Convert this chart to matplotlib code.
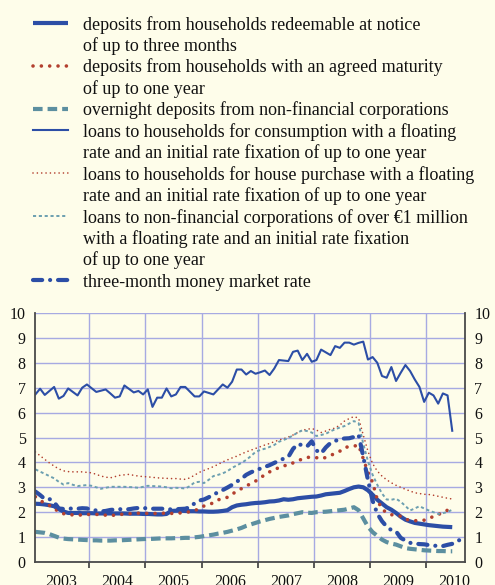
import matplotlib
matplotlib.use('Agg')
import matplotlib.pyplot as plt
from matplotlib.lines import Line2D
from matplotlib.ticker import FixedLocator, NullFormatter, FixedFormatter

# ---------------- data (monthly, Jan 2003 onwards) ----------------
first_year = 2003

dep_notice = [2.34, 2.33, 2.31, 2.28, 2.24, 2.12, 2.03, 1.97, 1.97, 1.97, 1.96, 1.96,
              1.96, 1.95, 1.95, 1.95, 1.95, 1.95, 1.95, 1.95, 1.94, 1.94, 1.94, 1.93,
              1.93, 1.92, 1.91, 1.91, 1.93, 2.05, 2.06, 2.06, 2.05, 2.04, 2.04, 2.03,
              2.03, 2.02, 2.02, 2.03, 2.05, 2.08, 2.20, 2.27, 2.30, 2.32, 2.35, 2.37,
              2.38, 2.40, 2.43, 2.44, 2.47, 2.52, 2.50, 2.52, 2.56, 2.58, 2.60, 2.62,
              2.63, 2.67, 2.72, 2.74, 2.76, 2.78, 2.85, 2.93, 3.00, 3.03, 3.00, 2.88,
              2.70, 2.50, 2.35, 2.20, 2.10, 1.97, 1.82, 1.70, 1.63, 1.57, 1.54, 1.51,
              1.48, 1.46, 1.44, 1.42, 1.41, 1.40]

dep_maturity = [2.62, 2.48, 2.35, 2.27, 2.17, 2.00, 1.94, 1.91, 1.89, 1.88, 1.89, 1.91,
                1.91, 1.91, 1.91, 1.88, 1.85, 1.89, 1.91, 1.92, 1.94, 1.95, 1.96, 1.96,
                1.95, 1.95, 1.95, 1.96, 1.96, 1.95, 1.96, 1.97, 1.99, 2.02, 2.06, 2.15,
                2.25, 2.30, 2.38, 2.50, 2.53, 2.60, 2.74, 2.82, 2.95, 3.05, 3.15, 3.25,
                3.36, 3.52, 3.62, 3.69, 3.80, 3.87, 3.88, 3.98, 4.07, 4.13, 4.20, 4.21,
                4.19, 4.14, 4.20, 4.28, 4.36, 4.45, 4.60, 4.63, 4.65, 4.70, 4.15, 3.60,
                3.20, 2.50, 2.12, 1.98, 1.90, 1.87, 1.84, 1.72, 1.67, 1.66, 1.66, 1.68,
                1.75, 1.83, 1.90, 2.00, 2.08, 2.12]

overnight_nfc = [1.21, 1.19, 1.17, 1.12, 1.05, 0.98, 0.94, 0.92, 0.91, 0.90, 0.89, 0.88,
                 0.87, 0.87, 0.86, 0.86, 0.86, 0.87, 0.87, 0.88, 0.89, 0.90, 0.91, 0.92,
                 0.93, 0.93, 0.94, 0.95, 0.95, 0.95, 0.96, 0.96, 0.97, 0.97, 0.99, 1.01,
                 1.04, 1.07, 1.10, 1.14, 1.17, 1.21, 1.26, 1.31, 1.37, 1.45, 1.51, 1.57,
                 1.63, 1.68, 1.73, 1.77, 1.81, 1.84, 1.87, 1.92, 1.96, 2.00, 1.98, 1.97,
                 2.00, 2.01, 2.02, 2.04, 2.06, 2.08, 2.10, 2.15, 2.20, 2.08, 1.75, 1.42,
                 1.20, 1.05, 0.90, 0.80, 0.74, 0.70, 0.63, 0.56, 0.53, 0.51, 0.49, 0.47,
                 0.46, 0.45, 0.44, 0.44, 0.43, 0.43]

loans_consumption = [6.73, 6.96, 6.71, 6.87, 7.03, 6.56, 6.67, 6.97, 6.83, 6.69, 7.00, 7.13,
                     6.98, 6.83, 6.88, 6.93, 6.77, 6.60, 6.65, 7.09, 6.95, 6.81, 6.87, 6.73,
                     6.93, 6.23, 6.60, 6.60, 6.97, 6.65, 6.73, 7.03, 7.03, 6.84, 6.65, 6.65,
                     6.85, 6.79, 6.73, 6.93, 7.13, 7.00, 7.24, 7.73, 7.73, 7.53, 7.67, 7.56,
                     7.62, 7.69, 7.51, 7.77, 8.11, 8.09, 8.07, 8.44, 8.49, 8.11, 8.36, 8.04,
                     8.11, 8.53, 8.42, 8.31, 8.67, 8.60, 8.81, 8.81, 8.73, 8.80, 8.85, 8.13,
                     8.23, 8.00, 7.47, 7.40, 7.83, 7.27, 7.60, 7.91, 7.67, 7.33, 7.03, 6.43,
                     6.80, 6.69, 6.36, 6.77, 6.69, 5.27]

loans_house = [4.42, 4.27, 4.12, 3.98, 3.85, 3.74, 3.66, 3.63, 3.62, 3.62, 3.62, 3.60,
               3.58, 3.52, 3.45, 3.41, 3.38, 3.43, 3.48, 3.50, 3.52, 3.48, 3.45, 3.43,
               3.42, 3.40, 3.38, 3.37, 3.36, 3.35, 3.35, 3.33, 3.32, 3.38, 3.49, 3.60,
               3.68, 3.75, 3.83, 3.92, 4.02, 4.10, 4.18, 4.25, 4.34, 4.42, 4.49, 4.56,
               4.63, 4.70, 4.76, 4.83, 4.90, 4.95, 5.02, 5.10, 5.20, 5.29, 5.33, 5.36,
               5.30, 5.20, 5.26, 5.33, 5.38, 5.50, 5.66, 5.76, 5.84, 5.78, 5.10, 4.45,
               3.95, 3.65, 3.45, 3.30, 3.18, 3.08, 3.00, 2.92, 2.85, 2.78, 2.75, 2.72,
               2.71, 2.68, 2.64, 2.60, 2.56, 2.53]

loans_nfc = [3.72, 3.63, 3.54, 3.45, 3.36, 3.22, 3.11, 3.17, 3.10, 3.05, 3.07, 3.09,
             3.06, 3.00, 2.94, 2.98, 3.02, 3.02, 3.02, 3.02, 3.01, 3.00, 2.98, 3.02,
             3.06, 3.05, 3.04, 3.03, 3.00, 2.96, 2.98, 2.97, 2.95, 3.05, 3.20, 3.22,
             3.17, 3.30, 3.45, 3.50, 3.56, 3.65, 3.78, 3.88, 3.98, 4.10, 4.25, 4.42,
             4.50, 4.55, 4.62, 4.70, 4.83, 4.90, 4.98, 5.08, 5.20, 5.29, 5.26, 5.20,
             5.06, 5.10, 5.15, 5.25, 5.33, 5.40, 5.46, 5.56, 5.66, 5.58, 4.75, 4.05,
             3.50, 3.10, 2.75, 2.51, 2.50, 2.54, 2.42, 2.25, 2.07, 2.15, 2.24, 2.15,
             2.07, 2.00, 1.93, 1.96, 2.01, 2.10]

money_market_3m = [2.83, 2.69, 2.53, 2.53, 2.40, 2.15, 2.13, 2.14, 2.15, 2.14, 2.16, 2.15,
                   2.09, 2.07, 2.03, 2.05, 2.09, 2.11, 2.12, 2.11, 2.12, 2.15, 2.17, 2.17,
                   2.15, 2.14, 2.14, 2.14, 2.13, 2.11, 2.12, 2.13, 2.14, 2.20, 2.36, 2.47,
                   2.51, 2.60, 2.72, 2.79, 2.89, 2.99, 3.10, 3.23, 3.34, 3.50, 3.60, 3.68,
                   3.75, 3.82, 3.89, 3.98, 4.07, 4.15, 4.22, 4.54, 4.74, 4.69, 4.64, 4.85,
                   4.48, 4.36, 4.60, 4.78, 4.86, 4.94, 4.96, 4.97, 5.02, 5.11, 4.24, 3.29,
                   2.46, 1.94, 1.64, 1.42, 1.28, 1.23, 0.97, 0.86, 0.77, 0.74, 0.72, 0.71,
                   0.68, 0.66, 0.64, 0.64, 0.69, 0.73, 0.85, 0.90]

year_labels = ['2003', '2004', '2005', '2006', '2007', '2008', '2009', '2010']
y_ticks = [0, 1, 2, 3, 4, 5, 6, 7, 8, 9, 10]

legend_labels = [
    "deposits from households redeemable at notice\nof up to three months",
    "deposits from households with an agreed maturity\nof up to one year",
    "overnight deposits from non-financial corporations",
    "loans to households for consumption with a floating\nrate and an initial rate fixation of up to one year",
    "loans to households for house purchase with a floating\nrate and an initial rate fixation of up to one year",
    "loans to non-financial corporations of over \u20ac1 million\nwith a floating rate and an initial rate fixation\nof up to one year",
    "three-month money market rate",
]

# ---------------- styles ----------------
BG = '#FEFDEA'
BLUE = '#2C4EA6'
RED = '#B3402F'
TEAL = '#5C8FA0'
TEAL2 = '#6C9FB0'
GRID = '#A7AAE2'
SPINE = '#4A4A4A'
FONT = 'Liberation Serif'

styles = [
    dict(color=BLUE, lw=3.0, linestyle='-', solid_capstyle='butt'),
    dict(color=RED, lw=2.6, linestyle=(0, (0.01, 2.3)), dash_capstyle='round'),
    dict(color=TEAL, lw=3.0, linestyle=(0, (2.3, 1.2)), dash_capstyle='butt'),
    dict(color=BLUE, lw=1.5, linestyle='-'),
    dict(color=RED, lw=1.2, linestyle=(0, (0.01, 2.6)), dash_capstyle='round'),
    dict(color=TEAL2, lw=1.4, linestyle=(0, (1.6, 1.4)), dash_capstyle='butt'),
    dict(color=BLUE, lw=3.0, linestyle=(0, (2.2, 1.9, 0.01, 1.9)), dash_capstyle='round'),
]

series = [dep_notice, dep_maturity, overnight_nfc, loans_consumption,
          loans_house, loans_nfc, money_market_3m]


def month_times(n):
    return [first_year + (i + 0.5) / 12.0 for i in range(n)]


W, H = 495, 585
fig = plt.figure(figsize=(W / 100, H / 100), dpi=100, facecolor=BG)

x_left, x_right = 2003.04, 2010.68
ax = fig.add_axes([35.3 / W, 23 / H, 429.4 / W, 249 / H])
ax.set_facecolor(BG)

for s, st in zip(series, styles):
    ax.plot(month_times(len(s)), s, **st)

ax.set_xlim(x_left, x_right)
ax.set_ylim(0, 10)

# grid
ax.set_yticks(y_ticks)
ax.set_yticklabels([str(v) for v in y_ticks])
years = list(range(2004, 2011))
ax.xaxis.set_major_locator(FixedLocator(years))
ax.xaxis.set_major_formatter(NullFormatter())
ax.xaxis.set_minor_locator(FixedLocator([int(y) + 0.5 for y in year_labels]))
ax.xaxis.set_minor_formatter(FixedFormatter(year_labels))
ax.grid(True, which='major', color=GRID, lw=1.0)
ax.set_axisbelow(True)

ax.tick_params(axis='x', which='major', direction='out', length=4, width=1.3, color=SPINE)
ax.tick_params(axis='x', which='minor', length=0, pad=9, labelsize=11.5)
ax.tick_params(axis='y', which='major', length=0, labelsize=11.5, pad=7,
               labelleft=True, labelright=True)
for lab in ax.get_xticklabels(minor=True) + ax.get_yticklabels():
    lab.set_fontfamily(FONT)
    lab.set_color('#111111')

ax.spines['top'].set_visible(False)
for side in ['left', 'right', 'bottom']:
    ax.spines[side].set_color(SPINE)
    ax.spines[side].set_linewidth(1.3)

# ---------------- legend (drawn manually, top aligned) ----------------
line_step = 21.45
first_line = 23.0
line_idx = 0
for label, st in zip(legend_labels, styles):
    yc = first_line + line_step * line_idx
    fy = 1 - yc / H
    handle = Line2D([33 / W, 68 / W], [fy, fy], transform=fig.transFigure, **st)
    fig.add_artist(handle)
    for k, txt in enumerate(label.split('\n')):
        yb = yc + 6.5 + line_step * k
        fig.text(83 / W, 1 - yb / H, txt, ha='left', va='baseline',
                 fontsize=13.0, fontfamily=FONT, color='#111111')
    line_idx += len(label.split('\n'))

fig.savefig('out.png', dpi=100, facecolor=BG)
